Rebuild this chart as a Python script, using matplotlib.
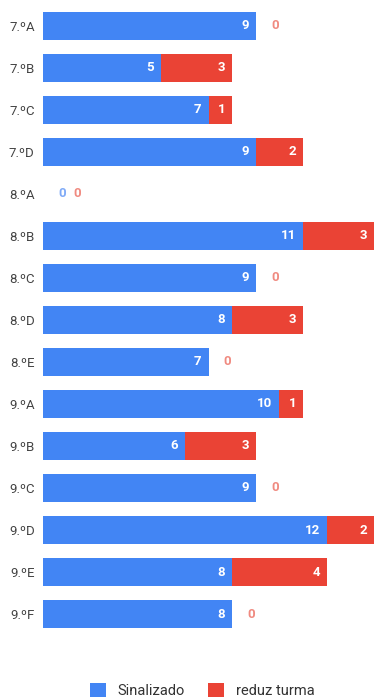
import numpy as np
import matplotlib.pyplot as plt

plt.rcParams['font.family'] = ['Roboto', 'DejaVu Sans']

# data
turmas = ["7.ºA", "7.ºB", "7.ºC", "7.ºD", "8.ºA", "8.ºB", "8.ºC", "8.ºD",
          "8.ºE", "9.ºA", "9.ºB", "9.ºC", "9.ºD", "9.ºE", "9.ºF"]
sinalizado = [9, 5, 7, 9, 0, 11, 9, 8, 7, 10, 6, 9, 12, 8, 8]
reduz_turma = [0, 3, 1, 2, 0, 3, 0, 3, 0, 1, 3, 0, 2, 4, 0]

blue = "#4285F4"
red = "#EA4335"

fig = plt.figure(figsize=(3.74, 6.97), dpi=100)
ax = fig.add_axes([43 / 374, 62 / 697, 331 / 374, 630 / 697])

y = np.arange(len(turmas))
ax.barh(y, sinalizado, height=0.667, color=blue, label="Sinalizado")
ax.barh(y, reduz_turma, left=sinalizado, height=0.667, color=red, label="reduz turma")

# value labels
for i in range(len(turmas)):
    start = 0
    extra = 0
    for vals, col, light in [(sinalizado, blue, "#7FAAF7"), (reduz_turma, red, "#F08A80")]:
        v = vals[i]
        end = start + v
        if v > 0:
            ax.annotate(str(v), (end, i), xytext=(-5, 0), textcoords="offset points",
                        ha="right", va="center", color="white", fontsize=9.5, fontweight="bold")
            extra = 0
        else:
            ax.annotate(str(v), (end, i), xytext=(11 + extra, 0), textcoords="offset points",
                        ha="left", va="center", color=light, fontsize=9.5, fontweight="bold")
            extra += 11
        start = end

ax.set_xlim(0, 14)
ax.set_ylim(14.5, -0.5)
ax.set_yticks(y)
ax.set_yticklabels(turmas, color="#444444", fontsize=9.5)
ax.set_xticks([])
ax.tick_params(axis="y", length=0, pad=6)
for s in ax.spines.values():
    s.set_visible(False)

fig.legend(loc="lower center", bbox_to_anchor=(0.54, -0.02), ncol=2, frameon=False,
           fontsize=10.5, handlelength=1.1, handleheight=1.1, columnspacing=1.6,
           labelcolor="#333333")

fig.savefig("out.png", dpi=100)
